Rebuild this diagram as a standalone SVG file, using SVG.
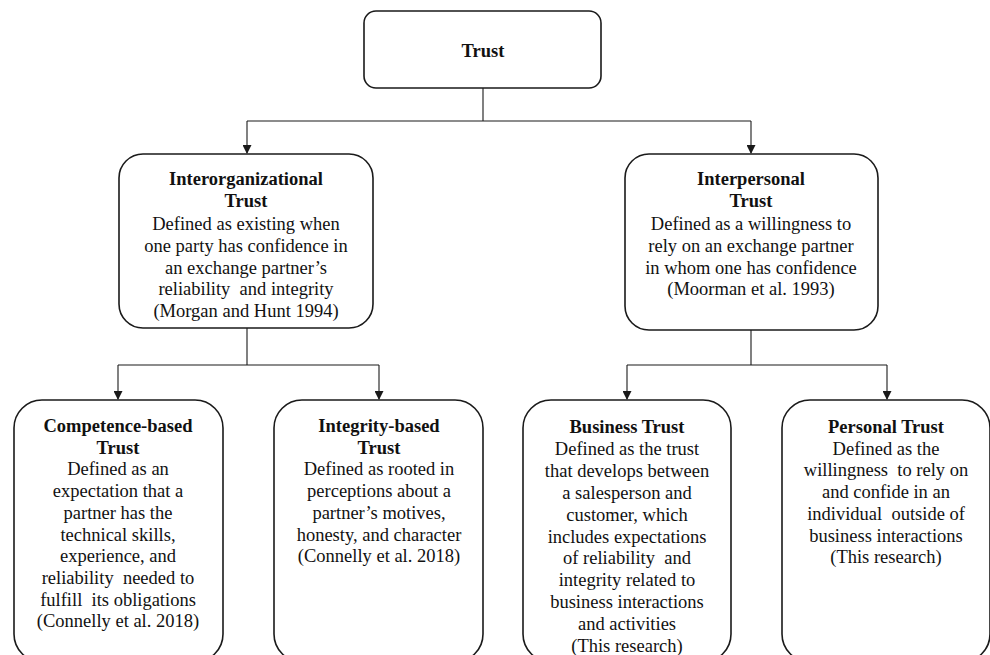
<svg xmlns="http://www.w3.org/2000/svg" width="990" height="655" viewBox="0 0 990 655">
<style>
.box{fill:#fff;stroke:#1a1a1a;stroke-width:1.6}
.c{fill:none;stroke:#1a1a1a;stroke-width:1.1}
text{font-family:"Liberation Serif","Times New Roman",serif;font-size:18.5px;fill:#111;text-anchor:middle;white-space:pre}
.b{font-weight:bold}
</style>
<defs>
<marker id="ah" markerWidth="9" markerHeight="9" refX="8" refY="4.5" orient="auto" markerUnits="userSpaceOnUse">
<path d="M0,0 L9,4.5 L0,9 Z" fill="#1a1a1a"/>
</marker>
</defs>
<rect width="990" height="655" fill="#fff"/>
<g id="connectors">
<path class="c" d="M483,88 V121 M247,121 H751"/>
<path class="c" d="M247,121 V153" marker-end="url(#ah)"/>
<path class="c" d="M751,121 V153" marker-end="url(#ah)"/>
<path class="c" d="M247,328 V365 M118,365 H379"/>
<path class="c" d="M118,365 V399" marker-end="url(#ah)"/>
<path class="c" d="M379,365 V399" marker-end="url(#ah)"/>
<path class="c" d="M751,330 V365 M627,365 H887"/>
<path class="c" d="M627,365 V399" marker-end="url(#ah)"/>
<path class="c" d="M887,365 V399" marker-end="url(#ah)"/>
</g>
<g id="trust">
<rect class="box" x="364" y="11" width="237" height="77" rx="12"/>
<text class="b" x="483" y="57">Trust</text>
</g>
<g id="interorganizational">
<rect class="box" x="119" y="154" width="254" height="174" rx="24"/>
<text x="246" class="b" y="185">Interorganizational</text>
<text x="246" class="b" y="207">Trust</text>
<text x="246" y="230">Defined as existing when</text>
<text x="246" y="252">one party has confidence in</text>
<text x="246" y="274">an exchange partner’s</text>
<text x="246" y="295">reliability  and integrity</text>
<text x="246" y="317">(Morgan and Hunt 1994)</text>
</g>
<g id="interpersonal">
<rect class="box" x="625" y="154" width="253" height="176" rx="24"/>
<text x="751" class="b" y="185">Interpersonal</text>
<text x="751" class="b" y="207">Trust</text>
<text x="751" y="230">Defined as a willingness to</text>
<text x="751" y="252">rely on an exchange partner</text>
<text x="751" y="274">in whom one has confidence</text>
<text x="751" y="295">(Moorman et al. 1993)</text>
</g>
<g id="competence">
<rect class="box" x="14" y="400" width="209" height="262" rx="28"/>
<text x="118" class="b" y="432">Competence-based</text>
<text x="118" class="b" y="453.7">Trust</text>
<text x="118" y="475.4">Defined as an</text>
<text x="118" y="497.1">expectation that a</text>
<text x="118" y="518.8">partner has the</text>
<text x="118" y="540.5">technical skills,</text>
<text x="118" y="562.2">experience, and</text>
<text x="118" y="583.9">reliability  needed to</text>
<text x="118" y="605.6">fulfill  its obligations</text>
<text x="118" y="627.3">(Connelly et al. 2018)</text>
</g>
<g id="integrity">
<rect class="box" x="274" y="400" width="209" height="262" rx="28"/>
<text x="379" class="b" y="432">Integrity-based</text>
<text x="379" class="b" y="453.7">Trust</text>
<text x="379" y="475.4">Defined as rooted in</text>
<text x="379" y="497.1">perceptions about a</text>
<text x="379" y="518.8">partner’s motives,</text>
<text x="379" y="540.5">honesty, and character</text>
<text x="379" y="562.2">(Connelly et al. 2018)</text>
</g>
<g id="business">
<rect class="box" x="523" y="400" width="208" height="262" rx="28"/>
<text x="627" class="b" y="433">Business Trust</text>
<text x="627" y="454.9">Defined as the trust</text>
<text x="627" y="476.8">that develops between</text>
<text x="627" y="498.7">a salesperson and</text>
<text x="627" y="520.6">customer, which</text>
<text x="627" y="542.5">includes expectations</text>
<text x="627" y="564.4">of reliability  and</text>
<text x="627" y="586.3">integrity related to</text>
<text x="627" y="608.2">business interactions</text>
<text x="627" y="630.1">and activities</text>
<text x="627" y="652">(This research)</text>
</g>
<g id="personal">
<rect class="box" x="782" y="400" width="208" height="262" rx="28"/>
<text x="886" class="b" y="433">Personal Trust</text>
<text x="886" y="454.7">Defined as the</text>
<text x="886" y="476.4">willingness  to rely on</text>
<text x="886" y="498.1">and confide in an</text>
<text x="886" y="519.8">individual  outside of</text>
<text x="886" y="541.5">business interactions</text>
<text x="886" y="563.2">(This research)</text>
</g>
</svg>
